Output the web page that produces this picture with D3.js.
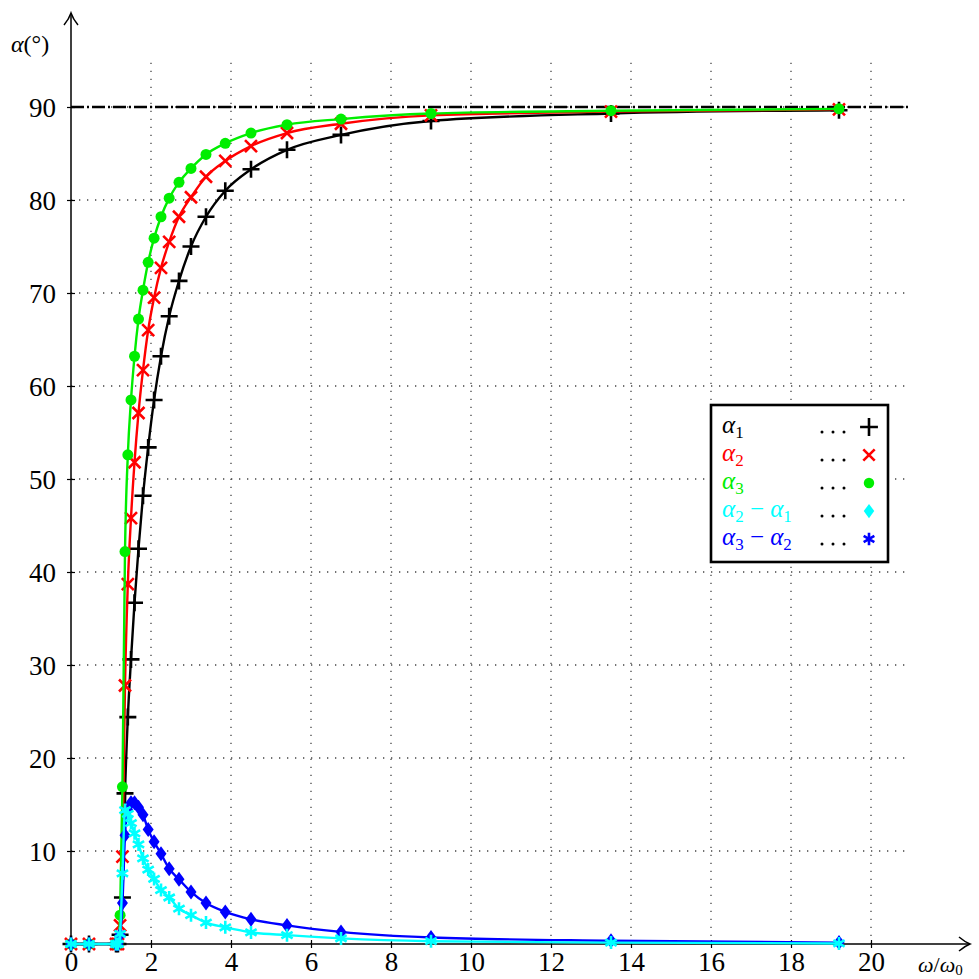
<!DOCTYPE html>
<html>
<head>
<meta charset="utf-8">
<script src="https://cdn.jsdelivr.net/npm/d3@7"></script>
<style>
html,body{margin:0;padding:0;background:#fff;}
svg{display:block;}
svg text{font-family:"Liberation Serif","Times New Roman",Tinos,"DejaVu Serif","Noto Serif",FreeSerif,Times,serif;}
</style>
</head>
<body>
<svg id="chart" width="979" height="979"></svg>
<script>
// ---- data ----
const omega = [0, 0.45, 1.125, 1.174, 1.227, 1.286, 1.35, 1.421, 1.5, 1.588, 1.6875, 1.8, 1.929, 2.077, 2.25, 2.4545, 2.7, 3.0, 3.375, 3.857, 4.5, 5.4, 6.75, 9.0, 13.5, 19.2];
const alpha1 = [0, 0, 0, 0, 1.0, 5.0, 16.2, 24.4, 30.6, 36.7, 42.5, 48.2, 53.4, 58.5, 63.2, 67.5, 71.3, 75.0, 78.2, 81.0, 83.3, 85.4, 87.0, 88.5, 89.3, 89.65];
const alpha2 = [0, 0, 0, 0, 2.0, 9.4, 27.8, 38.7, 45.8, 51.8, 57.1, 61.7, 66.0, 69.5, 72.7, 75.5, 78.2, 80.3, 82.5, 84.2, 85.8, 87.2, 88.2, 89.1, 89.5, 89.75];
const alpha3 = [0, 0, 0, 0, 3.1, 16.9, 42.2, 52.6, 58.5, 63.2, 67.2, 70.3, 73.3, 75.9, 78.2, 80.2, 81.9, 83.4, 84.9, 86.1, 87.2, 88.1, 88.7, 89.3, 89.6, 89.8];
const diff21 = [0, 0, 0, 0, 1.0, 4.4, 11.7, 14.4, 15.2, 15.2, 14.7, 13.9, 12.3, 11.0, 9.7, 8.1, 6.95, 5.6, 4.4, 3.45, 2.65, 2.0, 1.3, 0.7, 0.35, 0.15];
const diff32 = [0, 0, 0, 0, 1.1, 7.6, 14.4, 14.0, 13.0, 11.9, 10.7, 9.2, 8.0, 7.0, 5.8, 5.0, 3.8, 3.1, 2.3, 1.8, 1.25, 0.95, 0.6, 0.3, 0.15, 0.06];
const xTicks = [0, 2, 4, 6, 8, 10, 12, 14, 16, 18, 20];
const yTicks = [10, 20, 30, 40, 50, 60, 70, 80, 90];
const gridX = [2, 4, 6, 8, 10, 12, 14, 16, 18, 20];
const gridY = [10, 20, 30, 40, 50, 60, 70, 80, 90];
const asymptote = 90;

const series = [
  {vals: alpha1, color: "#000000", mark: "plus"},
  {vals: alpha2, color: "#ff0000", mark: "cross"},
  {vals: alpha3, color: "#00ee00", mark: "dot"},
  {vals: diff21, color: "#0000ff", mark: "diamond"},
  {vals: diff32, color: "#00ffff", mark: "asterisk"}
];
const legendItems = [
  {parts: [["α","1"]], color: "#000000", mark: "plus"},
  {parts: [["α","2"]], color: "#ff0000", mark: "cross"},
  {parts: [["α","3"]], color: "#00ee00", mark: "dot"},
  {parts: [["α","2"],["α","1"]], color: "#00ffff", mark: "diamond"},
  {parts: [["α","3"],["α","2"]], color: "#0000ff", mark: "asterisk"}
];

// ---- scales ----
const svg = d3.select("#chart");
const x = d3.scaleLinear().domain([0, 20]).range([71, 871]);
const y = d3.scaleLinear().domain([0, 90]).range([944, 107]);
const gridTop = y(95), gridRight = x(20.975);

// ---- grid ----
const grid = svg.append("g");
grid.selectAll("line.gx").data(gridX).enter().append("line")
  .attr("x1", d => x(d)).attr("x2", d => x(d)).attr("y1", y(0)).attr("y2", gridTop)
  .attr("stroke", "#444").attr("stroke-width", 1.3).attr("stroke-dasharray", "1.3,6.7");
grid.selectAll("line.gy").data(gridY).enter().append("line")
  .attr("x1", x(0)).attr("x2", gridRight).attr("y1", d => y(d)).attr("y2", d => y(d))
  .attr("stroke", "#444").attr("stroke-width", 1.3).attr("stroke-dasharray", "1.3,6.7");

// asymptote dash-dot
svg.append("line").attr("x1", x(0)).attr("x2", gridRight)
  .attr("y1", y(asymptote)).attr("y2", y(asymptote))
  .attr("stroke", "#000").attr("stroke-width", 2.4).attr("stroke-dasharray", "13,3,2,3");

// ---- axes ----
const xAxis = svg.append("g").attr("transform", `translate(0,${y(0)})`)
  .call(d3.axisBottom(x).tickValues(xTicks).tickSizeInner(4).tickSizeOuter(0).tickFormat(d3.format("d")));
xAxis.attr("font-family", null);
xAxis.select(".domain").remove();
xAxis.selectAll(".tick line").attr("y1", -4).attr("y2", 4).attr("stroke", "#000").attr("stroke-width", 1.2);
xAxis.selectAll(".tick text").attr("y", 27).attr("dy", 0).attr("font-size", 27).attr("fill", "#000");

const yAxis = svg.append("g").attr("transform", `translate(${x(0)},0)`)
  .call(d3.axisLeft(y).tickValues(yTicks).tickSizeInner(4).tickSizeOuter(0).tickFormat(d3.format("d")));
yAxis.attr("font-family", null);
yAxis.select(".domain").remove();
yAxis.selectAll(".tick line").attr("x1", -4).attr("x2", 4).attr("stroke", "#000").attr("stroke-width", 1.2);
yAxis.selectAll(".tick text").attr("x", -15).attr("dy", "0.35em").attr("font-size", 27).attr("fill", "#000");

// axis lines with arrows
svg.append("line").attr("x1", x(0)).attr("x2", 969).attr("y1", y(0)).attr("y2", y(0))
  .attr("stroke", "#000").attr("stroke-width", 1.5);
svg.append("path").attr("d", `M959,${y(0)-7} Q965,${y(0)-2} 970,${y(0)} Q965,${y(0)+2} 959,${y(0)+7}`)
  .attr("fill", "none").attr("stroke", "#000").attr("stroke-width", 1.5);
svg.append("line").attr("x1", x(0)).attr("x2", x(0)).attr("y1", y(0)).attr("y2", 14)
  .attr("stroke", "#000").attr("stroke-width", 1.5);
svg.append("path").attr("d", `M${x(0)-7},25 Q${x(0)-2},19 ${x(0)},13 Q${x(0)+2},19 ${x(0)+7},25`)
  .attr("fill", "none").attr("stroke", "#000").attr("stroke-width", 1.5);

// axis labels
const yl = svg.append("text").attr("x", 11).attr("y", 52).attr("font-size", 24).attr("fill", "#000");
yl.append("tspan").attr("font-style", "italic").text("α");
yl.append("tspan").text("(°)");
const xl = svg.append("text").attr("x", 918).attr("y", 972).attr("font-size", 22).attr("fill", "#000");
xl.append("tspan").attr("font-style", "italic").text("ω");
xl.append("tspan").text("/");
xl.append("tspan").attr("font-style", "italic").text("ω");
xl.append("tspan").attr("font-size", 15).attr("dy", 3).text("0");

// ---- markers ----
function drawMark(g, type, cx, cy, color, s) {
  s = s || 1;
  if (type === "plus") {
    g.append("path").attr("d", `M${cx-8.5*s},${cy}H${cx+8.5*s}M${cx},${cy-8.5*s}V${cy+8.5*s}`)
      .attr("stroke", color).attr("stroke-width", 2.6).attr("fill", "none");
  } else if (type === "cross") {
    const r = 6 * s;
    g.append("path").attr("d", `M${cx-r},${cy-r}L${cx+r},${cy+r}M${cx-r},${cy+r}L${cx+r},${cy-r}`)
      .attr("stroke", color).attr("stroke-width", 2.6).attr("fill", "none");
  } else if (type === "dot") {
    g.append("circle").attr("cx", cx).attr("cy", cy).attr("r", 5.5 * s).attr("fill", color);
  } else if (type === "diamond") {
    g.append("path").attr("d", `M${cx},${cy-7.5*s}L${cx+5.5*s},${cy}L${cx},${cy+7.5*s}L${cx-5.5*s},${cy}Z`)
      .attr("fill", color);
  } else if (type === "asterisk") {
    const r = 6.5 * s;
    let d = "";
    [90, 30, 150].forEach(a => {
      const dx = r * Math.cos(a * Math.PI / 180), dy = r * Math.sin(a * Math.PI / 180);
      d += `M${cx-dx},${cy-dy}L${cx+dx},${cy+dy}`;
    });
    g.append("path").attr("d", d).attr("stroke", color).attr("stroke-width", 2.6).attr("fill", "none");
  }
}

// ---- series ----
const line = d3.line().x(d => x(d[0])).y(d => y(d[1])).curve(d3.curveMonotoneX);
series.forEach(s => {
  const pts = omega.map((o, i) => [o, s.vals[i]]);
  const g = svg.append("g");
  g.append("path").attr("d", line(pts)).attr("fill", "none")
    .attr("stroke", s.color).attr("stroke-width", 2.4);
  pts.forEach(p => drawMark(g, s.mark, x(p[0]), y(p[1]), s.color));
});

// ---- legend ----
const lg = svg.append("g");
lg.append("rect").attr("x", 711).attr("y", 405).attr("width", 177).attr("height", 157)
  .attr("fill", "#fff").attr("stroke", "#000").attr("stroke-width", 2.6);
legendItems.forEach((it, i) => {
  const cy = 427 + i * 28;
  const t = lg.append("text").attr("x", 722).attr("y", cy + 6).attr("font-size", 25).attr("fill", it.color);
  it.parts.forEach((p, j) => {
    if (j > 0) t.append("tspan").attr("dy", -5).attr("font-size", 25).text(" − ");
    t.append("tspan").attr("font-style", "italic").text(p[0]);
    t.append("tspan").attr("font-size", 17).attr("dy", 5).text(p[1]);
  });
  [822, 833, 844].forEach(dx => lg.append("circle").attr("cx", dx).attr("cy", cy + 5).attr("r", 1.5).attr("fill", "#000"));
  drawMark(lg, it.mark, 869, cy, it.color, it.mark === "plus" ? 1.05 : 0.95);
});
</script>
</body>
</html>
